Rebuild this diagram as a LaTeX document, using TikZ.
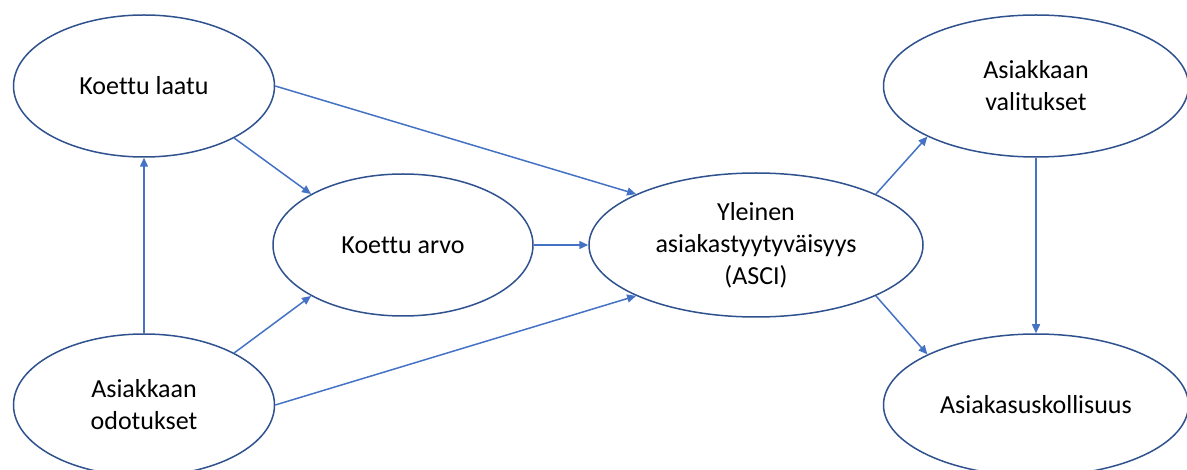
\documentclass[tikz,border=0pt]{standalone}
\usepackage{fontspec}
\setmainfont[RawFeature={-liga;-clig;-dlig}]{Carlito}
\usetikzlibrary{shapes.geometric,arrows.meta}
\definecolor{edgeblue}{HTML}{2F528F}
\definecolor{arrowblue}{HTML}{4472C4}
\tikzset{
  oval/.style={ellipse, draw=edgeblue, line width=1.5pt, fill=white, inner sep=0pt,
    align=center, font=\fontsize{26}{32}\selectfont, text=black},
  link/.style={draw=arrowblue, line width=1.5pt, -{Triangle[length=9pt,width=8pt]}}
}
\begin{document}
\begin{tikzpicture}[x=1pt,y=-1pt]
\useasboundingbox (0,0) rectangle (1187,470);
\clip (0,0) rectangle (1187,470);
\node[oval, minimum width=261pt, minimum height=142pt] (kl) at (144,86) {Koettu laatu};
\node[oval, minimum width=261pt, minimum height=142pt] (od) at (144,405) {Asiakkaan\\odotukset};
\node[oval, minimum width=260pt, minimum height=142pt] (ka) at (403,245) {Koettu arvo};
\node[oval, minimum width=334pt, minimum height=144pt] (asci) at (756,245) {Yleinen\\asiakastyytyväisyys\\(ASCI)};
\node[oval, minimum width=305pt, minimum height=142pt] (va) at (1036,86) {Asiakkaan\\valitukset};
\node[oval, minimum width=305pt, minimum height=142pt] (us) at (1036,405) {Asiakasuskollisuus};
\draw[link] (od.north) -- (kl.south);
\draw[link] (kl.-30) -- (ka.151);
\draw[link] (kl.east) -- (asci.157);
\draw[link] (od.30) -- (ka.209);
\draw[link] (od.east) -- (asci.203);
\draw[link] (ka.east) -- (asci.west);
\draw[link] (asci.23) -- (va.205);
\draw[link] (asci.337) -- (us.155);
\draw[link] (va.south) -- (us.north);
\end{tikzpicture}
\end{document}
